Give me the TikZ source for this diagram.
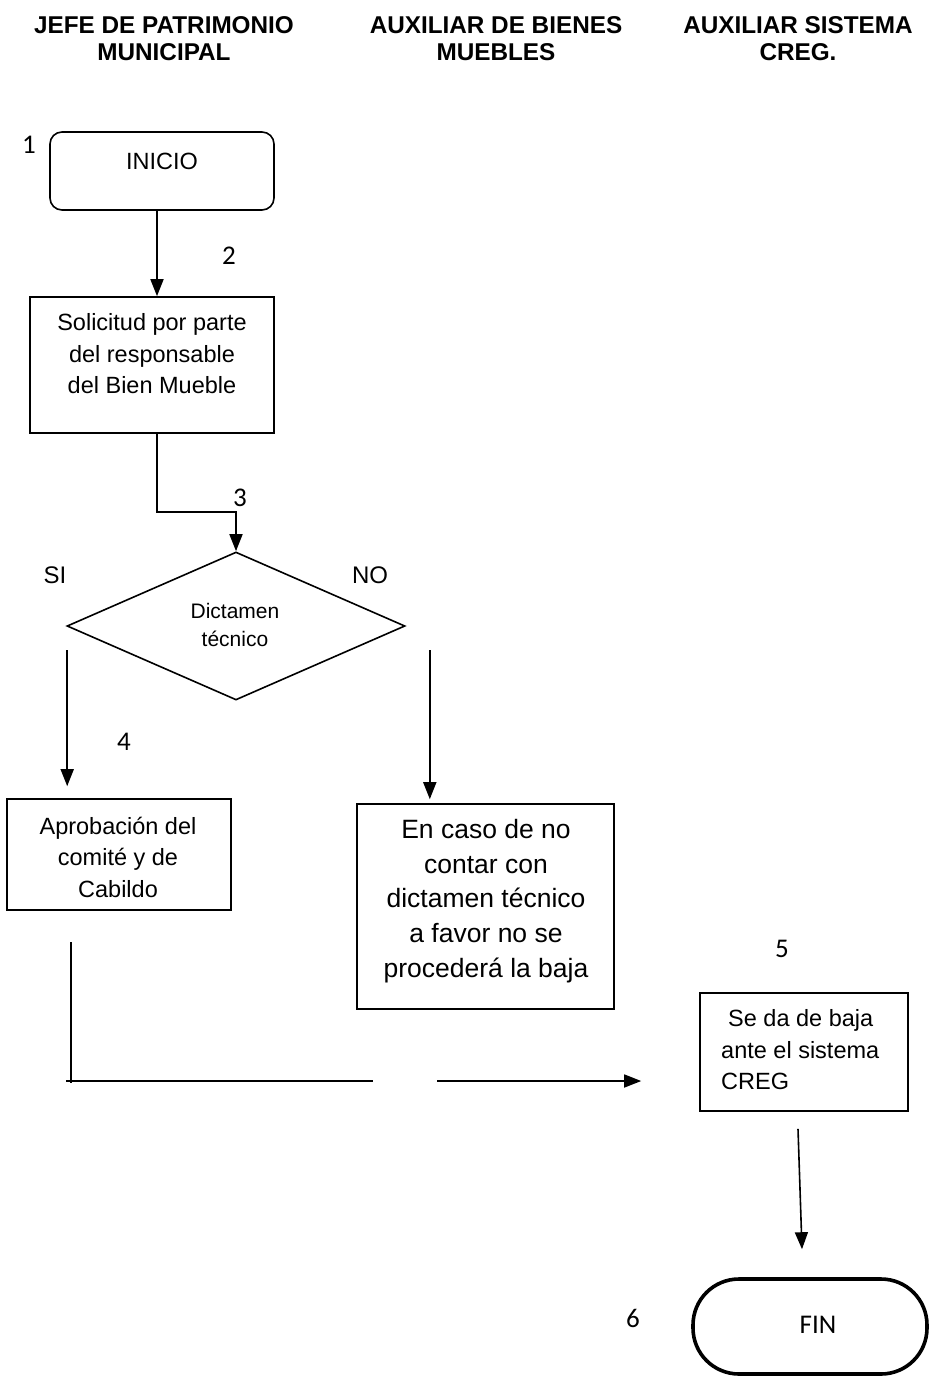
\documentclass[tikz,border=0pt]{standalone}
\usepackage{fontspec}
\setmainfont{Liberation Sans}
\newfontfamily\calib{Carlito}
\usetikzlibrary{arrows.meta,shapes.geometric,calc}
\begin{document}
\begin{tikzpicture}[x=1pt,y=-1pt,
 box/.style={draw,line width=1.6pt,inner sep=0pt},
 txt/.style={align=center,font=\fontsize{23.5}{31.5}\selectfont,inner sep=0pt},
 bigtxt/.style={align=center,font=\fontsize{26.5}{34.8}\selectfont,inner sep=0pt},
 smalltxt/.style={align=center,font=\fontsize{21}{28}\selectfont,inner sep=0pt},
 hdr/.style={align=center,font=\bfseries\fontsize{24.3}{27}\selectfont,inner sep=0pt},
 num/.style={font=\calib\fontsize{27}{30}\selectfont,inner sep=0pt},
 arr/.style={line width=1.6pt,-{Triangle[width=13pt,length=17pt]}},
 ln/.style={line width=1.6pt}]

\useasboundingbox (0,0) rectangle (932,1379);

% headers
\node[hdr] (h1) at (164,38.5) {JEFE DE PATRIMONIO\\MUNICIPAL};
\node[hdr] (h2) at (496,38.5) {AUXILIAR DE BIENES\\MUEBLES};
\node[hdr] (h3) at (798,38.5) {AUXILIAR SISTEMA\\CREG.};

% shapes
\node[box,rounded corners=12pt,minimum width=224pt,minimum height=78pt] (ini) at (162,171) {};
\node[txt] (initxt) at (162,161) {INICIO};

\node[box,minimum width=244pt,minimum height=136pt] (sol) at (152,365) {};
\node[txt] (soltxt) at (152,354) {Solicitud por parte\\del responsable\\del Bien Mueble};

\node[draw,diamond,line width=1.6pt,inner sep=0pt,minimum width=338pt,minimum height=148pt] (dia) at (236,626) {};
\node[smalltxt] (diatxt) at (235,625) {Dictamen\\técnico};

\node[box,minimum width=224pt,minimum height=111pt] (apr) at (119,854.5) {};
\node[txt] (aprtxt) at (118,857) {Aprobación del\\comité y de\\Cabildo};

\node[box,minimum width=257pt,minimum height=205pt] (caso) at (485.5,906.5) {};
\node[bigtxt] (casotxt) at (486,901) {En caso de no\\contar con\\dictamen técnico\\a favor no se\\procederá la baja};

\node[box,minimum width=208pt,minimum height=118pt] (baja) at (804,1052) {};
\node[txt,align=left,anchor=west] (bajatxt) at (721,1050) {\hspace{7pt}Se da de baja\\ante el sistema\\CREG};

\node[draw,line width=3.6pt,rounded corners=46pt,inner sep=0pt,minimum width=234pt,minimum height=95pt] (fin) at (810,1326.5) {};
\node[num] (fintxt) at (818,1325) {FIN};

% labels
\node[num] (n1) at (29,145) {1};
\node[num] (n2) at (229,256) {2};
\node[num] (n3) at (240,498) {3};
\node[num] (n4) at (124,742) {4};
\node[num] (n5) at (782,949) {5};
\node[num] (n6) at (633,1318) {6};
\node[txt,font=\fontsize{24}{28}\selectfont] (si) at (55,575) {SI};
\node[txt,font=\fontsize{24}{28}\selectfont] (no) at (370,575) {NO};

% connectors
\draw[arr] ([xshift=-5pt]ini.south) -- ([xshift=-5pt]ini.south |- sol.north);
\draw[arr] ([xshift=5pt]sol.south) -- ++(0,78) -| (dia.north);
\coordinate (sl) at ($(dia.west)+(1,24)$);
\draw[arr] (sl) -- ([yshift=12pt]sl |- apr.north);
\coordinate (nr) at ($(dia.east)+(24,24)$);
\draw[arr] (nr) -- ([yshift=4pt]nr |- caso.north);
\coordinate (c1) at (71,942);
\coordinate (c2) at (71,1081);
\draw[ln] (c1) -- ([yshift=-2pt]c2);
\draw[arr] ([xshift=-5pt]c2) -- ([xshift=-58pt]baja.west |- c2);
\fill[white] (373,1060) rectangle (437,1108);
\draw[arr] ([xshift=-6pt,yshift=-17pt]baja.south) -- ([xshift=-8pt,yshift=28pt]fin.north);
\end{tikzpicture}
\end{document}
